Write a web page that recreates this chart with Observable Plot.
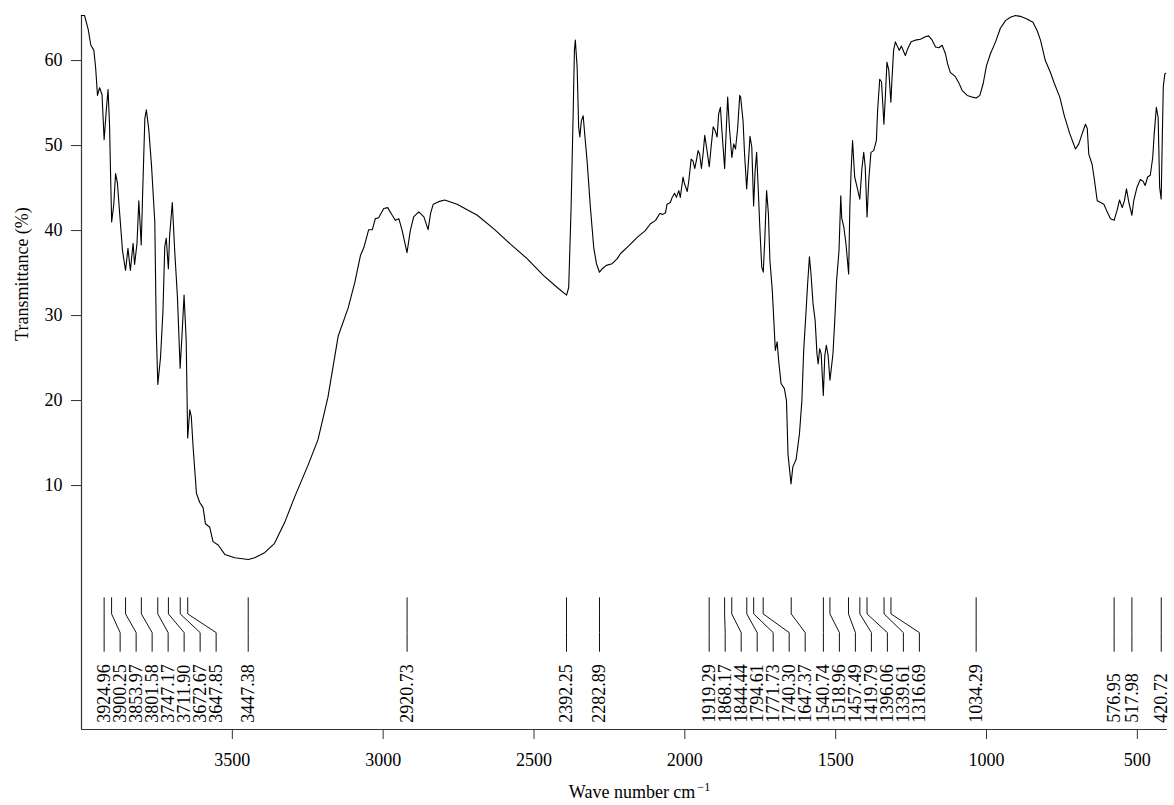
<!DOCTYPE html>
<html>
<head>
<meta charset="utf-8">
<script src="https://cdn.jsdelivr.net/npm/d3@7"></script>
<script src="https://cdn.jsdelivr.net/npm/@observablehq/plot@0.6"></script>
<style>
  html, body { margin: 0; padding: 0; background: #fff; }
  svg { display: block; }
</style>
</head>
<body>
<div id="chart"></div>
<script>
// ---- Data ----
const wavenumber = [
  4000, 3990, 3978, 3969, 3959, 3953, 3947, 3940, 3932, 3925, 3917, 3912, 3907, 3903, 3900,
  3893, 3887, 3881, 3873, 3864, 3854, 3846, 3838, 3829, 3824, 3816, 3810, 3802, 3798, 3790,
  3785, 3777, 3768, 3757, 3752, 3747, 3738, 3730, 3724, 3719, 3712, 3708, 3699, 3691, 3682,
  3673, 3667, 3660, 3653, 3648, 3641, 3636, 3630, 3619, 3608, 3597, 3589, 3575, 3564, 3547,
  3525, 3492, 3447, 3426, 3393, 3360, 3326, 3293, 3249, 3216, 3183, 3149, 3116, 3094,
  3075, 3064, 3048, 3036, 3026, 3015, 2998, 2985, 2970, 2959, 2948, 2937, 2921, 2910, 2899,
  2882, 2865, 2851, 2843, 2834, 2816, 2796, 2755, 2688, 2633, 2578, 2523, 2468, 2423, 2392,
  2385, 2377, 2370, 2366, 2363, 2357, 2352, 2348, 2343, 2337, 2332, 2324, 2313, 2302, 2293,
  2283, 2274, 2260, 2241, 2224, 2213, 2186, 2158, 2131, 2114, 2097, 2083, 2073, 2064, 2059,
  2048, 2042, 2034, 2028, 2020, 2015, 2006, 2001, 1992, 1987, 1979, 1973, 1967, 1962, 1956,
  1951, 1945, 1939, 1934, 1928, 1919, 1913, 1906, 1899, 1893, 1888, 1882, 1877, 1868, 1864,
  1858, 1852, 1844, 1838, 1832, 1825, 1818, 1815, 1807, 1802, 1795, 1789, 1784, 1778, 1772,
  1767, 1762, 1756, 1751, 1745, 1740, 1735, 1729, 1723, 1718, 1710, 1705, 1700, 1694, 1689,
  1681, 1670, 1663, 1658, 1648, 1642, 1631, 1620, 1612, 1606, 1598, 1593, 1587, 1582, 1575,
  1568, 1562, 1558, 1553, 1548, 1541, 1536, 1531, 1525, 1519, 1514, 1509, 1503, 1497, 1489,
  1483, 1480, 1473, 1466, 1457, 1453, 1449, 1444, 1437, 1429, 1420, 1413, 1407, 1402, 1396,
  1390, 1383, 1374, 1365, 1361, 1354, 1348, 1340, 1335, 1330, 1324, 1317, 1313, 1308, 1302,
  1297, 1289, 1282, 1274, 1269, 1261, 1250, 1236, 1219, 1203, 1192, 1180, 1169, 1158, 1147,
  1136, 1129, 1120, 1103, 1092, 1081, 1064, 1048, 1034, 1022, 1011, 1000, 987, 970, 954,
  937, 921, 904, 888, 866, 846, 832, 821, 805, 788, 775, 757, 742, 724, 705,
  694, 681, 672, 666, 661, 650, 642, 633, 622, 611, 600, 589, 577, 567, 559,
  550, 543, 536, 528, 518, 512, 501, 490, 481, 474, 466, 457, 449, 444, 437,
  431, 426, 421, 418, 414, 409, 406
];
const transmittance = [
  65.3, 65.3, 63.7, 61.8, 61.2, 59.1, 55.9, 56.8, 56.0, 50.7, 54.5, 56.6, 52.4, 45.6, 41.0,
  43.1, 46.7, 45.6, 41.8, 37.6, 35.3, 37.9, 35.3, 38.5, 36.0, 38.5, 43.5, 38.3, 43.5, 53.2,
  54.2, 51.9, 47.7, 41.0, 28.0, 21.9, 25.1, 30.5, 38.1, 39.1, 35.5, 39.3, 43.3, 37.6, 32.2,
  23.8, 27.6, 32.4, 27.1, 15.6, 18.9, 18.1, 14.5, 9.1, 8.0, 7.4, 5.5, 5.1, 3.4, 3.0,
  1.9, 1.5, 1.3, 1.5, 2.1, 3.2, 5.7, 8.7, 12.4, 15.4, 20.4, 27.6, 30.9, 33.9,
  37.1, 38.0, 40.1, 40.1, 41.4, 41.5, 42.6, 42.7, 41.8, 41.2, 41.4, 40.0, 37.4, 40.0, 41.6,
  42.2, 41.6, 40.1, 42.0, 43.1, 43.4, 43.6, 43.1, 41.8, 40.2, 38.4, 36.7, 34.7, 33.3, 32.4,
  33.3, 42.7, 54.1, 61.2, 62.4, 59.2, 52.2, 51.0, 52.9, 53.5, 51.4, 48.2, 42.7, 38.0, 36.1,
  35.1, 35.5, 35.9, 36.1, 36.7, 37.3, 38.2, 39.2, 40.0, 40.8, 41.2, 42.0, 41.9, 42.1, 43.1,
  43.3, 43.9, 44.4, 43.9, 44.7, 43.9, 46.3, 45.5, 44.6, 45.8, 48.4, 48.2, 47.3, 48.2, 49.4,
  49.0, 47.3, 49.2, 51.2, 49.8, 47.5, 49.8, 52.2, 51.7, 51.0, 53.7, 54.5, 51.7, 47.3, 50.8,
  55.7, 52.0, 48.6, 50.2, 49.6, 52.0, 55.9, 55.7, 52.9, 49.0, 44.9, 48.2, 51.1, 49.8, 42.9,
  47.0, 49.2, 44.3, 40.0, 35.7, 35.1, 38.9, 44.7, 42.0, 36.5, 32.9, 29.4, 25.9, 26.9, 24.7,
  22.0, 21.4, 20.0, 13.7, 10.2, 12.2, 13.1, 16.1, 20.0, 25.9, 30.6, 33.7, 36.9, 35.0, 31.4,
  29.4, 25.5, 24.3, 26.1, 25.5, 20.6, 25.3, 26.5, 25.3, 22.4, 23.9, 25.5, 29.4, 34.1, 37.6,
  44.1, 41.5, 40.4, 38.5, 34.9, 42.7, 46.9, 50.6, 46.3, 45.1, 43.7, 47.3, 49.2, 47.5, 41.6,
  46.1, 49.2, 49.4, 50.6, 54.1, 57.8, 57.5, 52.5, 56.0, 59.8, 58.9, 55.1, 58.0, 61.2, 62.2,
  61.8, 61.2, 61.7, 61.0, 60.6, 61.4, 62.2, 62.4, 62.5, 62.8, 62.9, 62.4, 61.6, 61.5, 61.8,
  60.8, 59.6, 58.6, 58.1, 57.4, 56.5, 55.9, 55.7, 55.6, 55.9, 57.3, 59.4, 60.8, 62.2, 63.8,
  64.7, 65.1, 65.3, 65.2, 64.9, 64.5, 63.5, 62.4, 60.0, 58.6, 57.3, 55.7, 53.5, 51.4, 49.6,
  50.2, 51.6, 52.5, 52.0, 49.0, 47.8, 45.9, 43.5, 43.3, 43.1, 42.2, 41.4, 41.2, 42.4, 43.6,
  42.7, 43.5, 44.9, 43.3, 41.8, 43.5, 45.1, 46.0, 45.8, 45.3, 46.3, 46.5, 48.6, 51.4, 54.5,
  53.3, 45.1, 43.7, 49.5, 56.9, 58.4, 58.5
];
const peakWavenumbers = [
  3924.96, 3900.25, 3853.97, 3801.58, 3747.17, 3711.90, 3672.67, 3647.85, 3447.38,
  2920.73, 2392.25, 2282.89, 1919.29, 1868.17, 1844.44, 1794.61, 1771.73, 1740.30,
  1647.37, 1540.74, 1518.96, 1457.49, 1419.79, 1396.06, 1339.61, 1316.69, 1034.29,
  576.95, 517.98, 420.72
];
const xTicks = [3500, 3000, 2500, 2000, 1500, 1000, 500];
const yTicks = [10, 20, 30, 40, 50, 60];
const xTitle = "Wave number cm";
const xTitleSup = "\u22121";
const yTitle = "Transmittance (%)";

// ---- Layout ----
const W = 1174, H = 805;
const mL = 81, mR = 7, mT = 15, mB = 76;
const xDomain = [4000, 400];
const yDomain = [-18.7, 65.3];
const font = "'Liberation Serif', 'Times New Roman', serif";

const spectrum = wavenumber.map((w, i) => ({w, t: transmittance[i]}));

// Peak label layout: spread labels so they are at least minGap px apart
const xs = d3.scaleLinear(xDomain, [mL, W - mR]);
const minGap = 16;
const peaks = [...peakWavenumbers].sort((a, b) => b - a);
let prev = -Infinity;
const peakInfo = peaks.map(p => {
  const px = Math.max(xs(p), prev + minGap);
  prev = px;
  return {p, lx: xs.invert(px)};
});
// connector levels (in transmittance units, below the spectrum)
const lvTop = -3.2, lvBend1 = -5.1, lvBend2 = -7.3, lvBottom = -9.5, lvText = -17.9;
const connectors = peakInfo.flatMap(d => [
  {id: d.p, x: d.p, y: lvTop},
  {id: d.p, x: d.p, y: lvBend1},
  {id: d.p, x: d.lx, y: lvBend2},
  {id: d.p, x: d.lx, y: lvBottom}
]);
const yTitleCenter = d3.mean([yTicks[0], yTicks[yTicks.length - 1]]);

const plot = Plot.plot({
  width: W,
  height: H,
  marginLeft: mL,
  marginRight: mR,
  marginTop: mT,
  marginBottom: mB,
  style: {fontFamily: font, fontSize: "18px", background: "#fff", color: "#000"},
  x: {domain: xDomain, axis: null},
  y: {domain: yDomain, axis: null},
  marks: [
    Plot.axisX({ticks: xTicks, tickSize: 10, tickPadding: 14, tickFormat: d => String(d), label: null, stroke: "#333", fontSize: 18}),
    Plot.axisY({ticks: yTicks, tickSize: 10, tickPadding: 9, tickFormat: d => String(d), label: null, stroke: "#333", fontSize: 18}),
    Plot.ruleX([xDomain[0]], {stroke: "#333", strokeWidth: 1.2}),
    Plot.ruleY([yDomain[0]], {stroke: "#333", strokeWidth: 1.2}),
    Plot.line(spectrum, {x: "w", y: "t", stroke: "#000", strokeWidth: 1.1, curve: "linear"}),
    Plot.line(connectors, {x: "x", y: "y", z: "id", stroke: "#111", strokeWidth: 1}),
    Plot.text(peakInfo, {x: "lx", y: () => lvText, text: d => d.p.toFixed(2), rotate: -90,
      textAnchor: "start", lineAnchor: "middle", fontSize: 18, fill: "#000"}),
    Plot.text([yTitle], {x: () => xDomain[0], y: () => yTitleCenter, dx: -59, dy: 1, rotate: -90,
      fontSize: 18, fill: "#000", lineAnchor: "middle", textAnchor: "middle"}),
    Plot.text([xTitle], {frameAnchor: "bottom", dx: 15, dy: 63, fontSize: 18, fill: "#000", lineAnchor: "middle"})
  ]
});

// superscript on the x title
plot.querySelectorAll("text").forEach(t => {
  if (t.textContent === xTitle) {
    const s = document.createElementNS("http://www.w3.org/2000/svg", "tspan");
    s.setAttribute("font-size", "12");
    s.setAttribute("dy", "-7");
    s.setAttribute("dx", "2");
    s.textContent = xTitleSup;
    t.appendChild(s);
  }
});

document.getElementById("chart").appendChild(plot);
</script>
</body>
</html>
